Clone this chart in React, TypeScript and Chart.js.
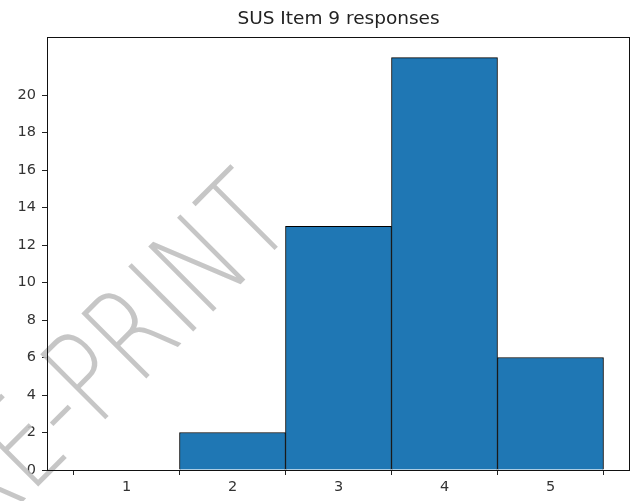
import React, { useEffect, useRef } from "react";
import { Chart, registerables } from "chart.js";

Chart.register(...registerables);

const title = "SUS Item 9 responses";
const responses = [1, 2, 3, 4, 5];
const counts = [0, 2, 13, 22, 6];
const xTickValues = [1, 2, 3, 4, 5];
const yTickValues = [0, 2, 4, 6, 8, 10, 12, 14, 16, 18, 20];
const watermark = "PRE-PRINT";

const WM_SCALE = 0.76;

const framePlugin = {
  id: "frame",
  beforeDatasetsDraw(chart: any) {
    const ctx = chart.ctx;
    ctx.save();
    ctx.rotate(-Math.PI / 4);
    ctx.scale(WM_SCALE, 1);
    ctx.fillStyle = "rgba(192,192,192,0.9)";
    ctx.font = '200 126px "DejaVu Sans"';
    ctx.textAlign = "right";
    ctx.textBaseline = "alphabetic";
    ctx.fillText(watermark, 49 / WM_SCALE, 371);
    ctx.restore();
  },
  afterDraw(chart: any) {
    const { ctx, chartArea } = chart;
    ctx.save();
    ctx.strokeStyle = "#111";
    ctx.lineWidth = 1;
    ctx.strokeRect(
      Math.round(chartArea.left) + 0.5,
      Math.round(chartArea.top) + 0.5,
      Math.round(chartArea.right - chartArea.left) - 1,
      Math.round(chartArea.bottom - chartArea.top)
    );
    ctx.fillStyle = "#222";
    ctx.font = '18.5px "DejaVu Sans"';
    ctx.textAlign = "center";
    ctx.textBaseline = "middle";
    ctx.fillText(title, (chartArea.left + chartArea.right) / 2, 19);
    ctx.restore();
  },
};

export default function App() {
  const ref = useRef<HTMLCanvasElement>(null);
  useEffect(() => {
    const canvas = ref.current;
    if (!canvas) return;
    const tickFont = { family: '"DejaVu Sans"', size: 14.5 };
    const chart = new Chart(canvas, {
      type: "bar",
      data: {
        datasets: [
          {
            data: responses.map((r, i) => ({ x: r, y: counts[i] })),
            backgroundColor: "#1f77b4",
            borderColor: "#000",
            borderWidth: 1,
            barPercentage: 1,
            categoryPercentage: 1,
          },
        ],
      },
      options: {
        responsive: false,
        animation: false,
        layout: { padding: { left: 0, right: 3, top: 37, bottom: 0 } },
        plugins: {
          legend: { display: false },
          tooltip: { enabled: false },
          title: { display: false },
        },
        scales: {
          x: {
            type: "linear",
            min: 0.25,
            max: 5.75,
            offset: false,
            afterBuildTicks: (s: any) => {
              s.ticks = xTickValues.map((v) => ({ value: v }));
            },
            afterFit: (s: any) => {
              s.height = 31;
            },
            grid: {
              display: true,
              drawOnChartArea: false,
              drawTicks: true,
              tickLength: 5,
              color: "#222",
            },
            border: { display: false },
            ticks: {
              color: "#333",
              font: tickFont,
              padding: 4,
              maxRotation: 0,
              autoSkip: false,
            },
          },
          y: {
            type: "linear",
            min: 0,
            max: 23.1,
            afterBuildTicks: (s: any) => {
              s.ticks = yTickValues.map((v) => ({ value: v }));
            },
            afterFit: (s: any) => {
              s.width = 47;
            },
            grid: {
              display: true,
              drawOnChartArea: false,
              drawTicks: true,
              tickLength: 5,
              color: "#222",
            },
            border: { display: false },
            ticks: {
              color: "#333",
              font: tickFont,
              padding: 6,
              autoSkip: false,
            },
          },
        },
      },
      plugins: [framePlugin],
    } as any);
    return () => chart.destroy();
  }, []);
  return (
    <div style={{ position: "fixed", left: 0, top: 0, width: 633, height: 501, background: "#fff" }}>
      <canvas ref={ref} width={633} height={501} style={{ width: 633, height: 501 }} />
    </div>
  );
}
